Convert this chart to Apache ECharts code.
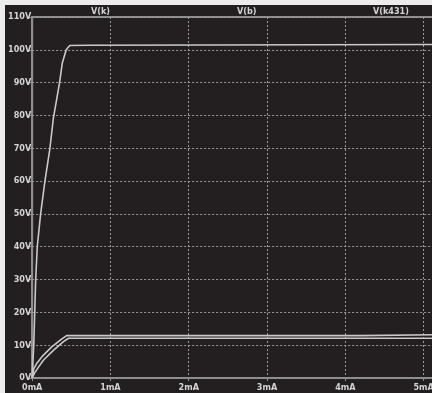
<!DOCTYPE html>
<html>
<head>
<meta charset="utf-8">
<script src="https://cdn.jsdelivr.net/npm/echarts@6/dist/echarts.min.js"></script>
<style>
html,body{margin:0;padding:0;background:#ececec;width:432px;height:393px;overflow:hidden;position:relative;}
#chart{position:absolute;left:5px;top:5px;width:440px;height:388px;}
</style>
</head>
<body>
<div id="chart"></div>
<script>
// Trace names
const traceNames = ["V(k)", "V(b)", "V(k431)"];
// X-axis tick values (mA) and Y-axis tick values (V)
const xTicks = [0, 1, 2, 3, 4, 5];
const yTicks = [0, 10, 20, 30, 40, 50, 60, 70, 80, 90, 100, 110];

// V(k): current (mA) and voltage (V)
const vkI = [0, 0.02, 0.028, 0.035, 0.045, 0.065, 0.108, 0.163, 0.227, 0.27, 0.35, 0.385, 0.435, 0.48, 0.71, 0.72, 5.12];
const vkV = [0, 10, 16, 22, 30, 40, 50, 60, 70, 79, 90, 96, 100, 101.3, 101.4, 101.6, 101.6];

// V(b)
const vbI = [0, 0.02, 0.06, 0.125, 0.25, 0.38, 0.44, 4.2, 4.21, 5.12];
const vbV = [0, 2.8, 4.5, 6.5, 9.5, 11.9, 12.9, 12.9, 13.2, 13.2];

// V(k431)
const vk431I = [0, 0.03, 0.083, 0.146, 0.274, 0.4, 0.465, 5.12];
const vk431V = [0, 1.5, 3.4, 5.5, 8.5, 11.1, 12.1, 12.1];

const zip = (a, b) => a.map((v, i) => [v, b[i]]);

const font = '"Liberation Sans Narrow", "DejaVu Sans Condensed", "Liberation Sans", sans-serif';
const frame = '#8e8e8e';
const traceColor = '#c9c9c9';
const labelColor = '#d4d4d4';

const chart = echarts.init(document.getElementById('chart'));
const mkSeries = (name, data) => ({
  name, type: 'line', data, showSymbol: false, symbol: 'none',
  lineStyle: { color: traceColor, width: 1.6 }, animation: false
});

chart.setOption({
  backgroundColor: '#231f20',
  animation: false,
  grid: { left: 26, top: 12, width: 402, height: 361, show: true, borderColor: frame, borderWidth: 2 },
  graphic: [
    { type: 'text', left: 97 - 11, top: 2, style: { text: traceNames[0], fill: labelColor, font: 'bold 9px ' + font } },
    { type: 'text', left: 240 - 8, top: 2, style: { text: traceNames[1], fill: labelColor, font: 'bold 9px ' + font } },
    { type: 'text', left: 383 - 15, top: 2, style: { text: traceNames[2], fill: labelColor, font: 'bold 9px ' + font } }
  ],
  xAxis: {
    type: 'value', min: xTicks[0], max: 5.12, interval: 1,
    axisLine: { show: true, lineStyle: { color: frame, width: 2 } },
    axisTick: { show: true, length: 3, lineStyle: { color: frame } },
    axisLabel: {
      color: labelColor, fontSize: 9, fontWeight: 'bold', fontFamily: font, margin: 5,
      showMaxLabel: false,
      formatter: v => (xTicks.indexOf(v) >= 0 ? v + 'mA' : '')
    },
    splitLine: { show: true, lineStyle: { color: '#9a9a9a', type: [2, 2], width: 1 } }
  },
  yAxis: {
    type: 'value', min: yTicks[0], max: yTicks[yTicks.length - 1], interval: 10,
    axisLine: { show: true, lineStyle: { color: frame, width: 2 } },
    axisTick: { show: true, length: 4, lineStyle: { color: frame } },
    axisLabel: {
      color: labelColor, fontSize: 9, fontWeight: 'bold', fontFamily: font, margin: 1,
      formatter: v => v + 'V'
    },
    splitLine: { show: true, lineStyle: { color: '#9a9a9a', type: [2, 2], width: 1 } }
  },
  series: [
    mkSeries(traceNames[0], zip(vkI, vkV)),
    mkSeries(traceNames[1], zip(vbI, vbV)),
    mkSeries(traceNames[2], zip(vk431I, vk431V))
  ]
});
</script>
</body>
</html>
